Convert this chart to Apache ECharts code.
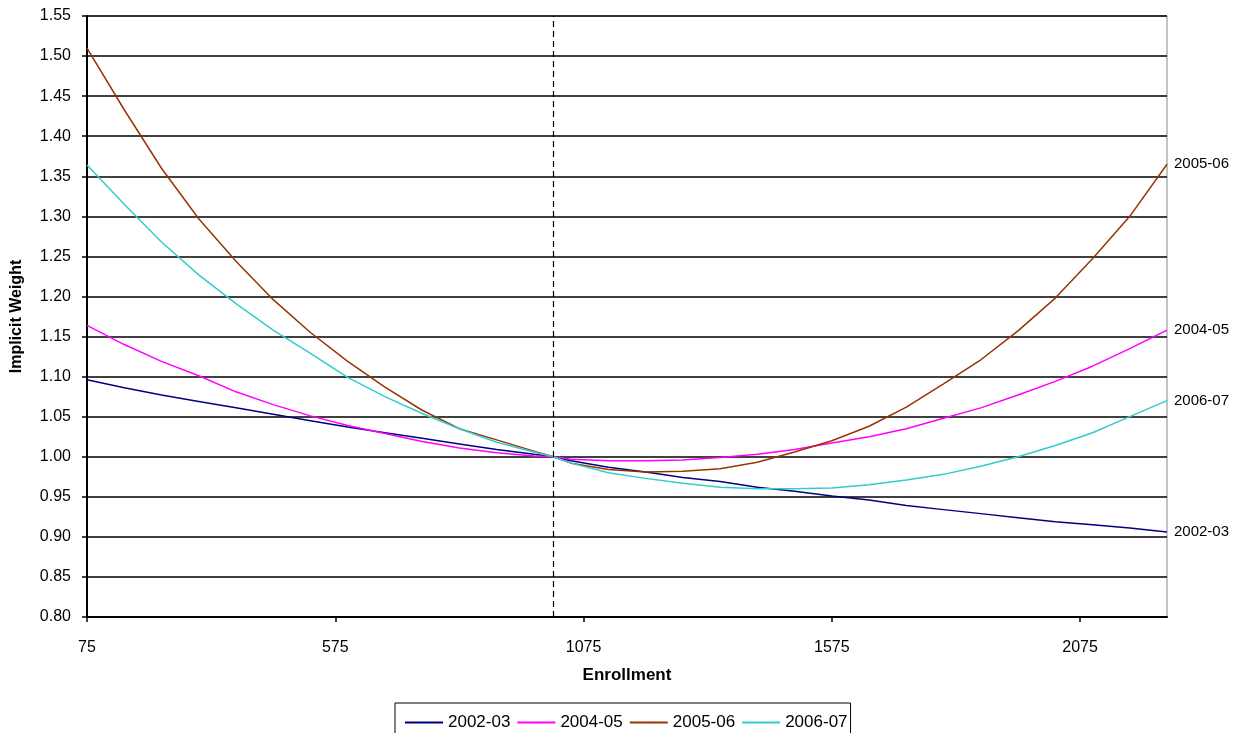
<!DOCTYPE html>
<html>
<head>
<meta charset="utf-8">
<script src="https://cdn.jsdelivr.net/npm/echarts@6/dist/echarts.min.js"></script>
<style>
html,body{margin:0;padding:0;background:#fff;}
#chart{width:1235px;height:733px;}
</style>
</head>
<body>
<div id="chart"></div>
<script>
// Enrollment values (x)
var enrollment = [75,150,225,300,375,450,525,600,675,750,825,900,975,1014,1050,1125,1200,1275,1350,1425,1500,1575,1650,1725,1800,1875,1950,2025,2100,2175,2250];
var xTickLabels = [75,575,1075,1575,2075];
var referenceEnrollment = 1014;
var seriesNames = ['2002-03','2004-05','2005-06','2006-07'];

var s2002_03 = [1.096,1.086,1.077,1.069,1.061,1.053,1.045,1.037,1.030,1.023,1.016,1.009,1.003,1.000,0.995,0.987,0.981,0.974,0.969,0.962,0.957,0.951,0.946,0.939,0.934,0.929,0.924,0.919,0.915,0.911,0.906];
var s2004_05 = [1.164,1.140,1.119,1.101,1.081,1.065,1.051,1.039,1.029,1.019,1.011,1.005,1.001,1.000,0.997,0.995,0.995,0.996,0.999,1.003,1.009,1.017,1.025,1.035,1.048,1.061,1.077,1.094,1.113,1.135,1.158];
var s2005_06 = [1.510,1.433,1.360,1.297,1.244,1.196,1.155,1.119,1.087,1.058,1.035,1.021,1.007,1.000,0.992,0.984,0.981,0.982,0.985,0.993,1.006,1.020,1.038,1.062,1.091,1.121,1.157,1.198,1.247,1.300,1.365];
var s2006_07 = [1.364,1.315,1.268,1.227,1.191,1.158,1.129,1.099,1.075,1.054,1.035,1.018,1.006,1.000,0.992,0.980,0.973,0.967,0.962,0.960,0.960,0.961,0.965,0.971,0.978,0.988,1.000,1.014,1.030,1.050,1.070];

var colors = ['#000080','#FF00FF','#993300','#33CCCC'];
var allValues = [s2002_03, s2004_05, s2005_06, s2006_07];

function pairs(vals){ return enrollment.map(function(x,i){ return [x, vals[i]]; }); }

var FONT = 'Liberation Sans, Arial, sans-serif';

var series = seriesNames.map(function(name, k){
  var s = {
    name: name,
    type: 'line',
    data: pairs(allValues[k]),
    symbol: 'none',
    showSymbol: false,
    smooth: false,
    lineStyle: { color: colors[k], width: 1.5 },
    itemStyle: { color: colors[k] },
    endLabel: { show: true, formatter: '{a}', color: '#000', fontFamily: FONT, fontSize: 15, distance: 7 },
    emphasis: { disabled: true },
    z: 3
  };
  if (k === 0) {
    s.markLine = {
      silent: true,
      symbol: ['none','none'],
      label: { show: false },
      lineStyle: { color: '#000', type: [6,4], width: 1.2 },
      data: [{ xAxis: referenceEnrollment }]
    };
  }
  return s;
});

var chart = echarts.init(document.getElementById('chart'), null, { renderer: 'canvas' });
chart.setOption({
  animation: false,
  backgroundColor: '#fff',
  textStyle: { fontFamily: FONT },
  grid: { left: 87, top: 16, right: 68, bottom: 116, show: true, borderColor: '#888', borderWidth: 1, backgroundColor: 'transparent' },
  legend: {
    data: seriesNames,
    left: 395,
    top: 703,
    itemWidth: 38,
    itemHeight: 2,
    itemGap: 6,
    padding: [11, 3, 30, 9],
    borderColor: '#000',
    borderWidth: 1,
    textStyle: { fontFamily: FONT, fontSize: 17, color: '#000' }
  },
  xAxis: {
    type: 'value',
    min: 75,
    max: 2250,
    name: 'Enrollment',
    nameLocation: 'middle',
    nameGap: 50,
    nameTextStyle: { fontFamily: FONT, fontSize: 17, fontWeight: 'bold', color: '#000' },
    axisLine: { show: true, onZero: false, lineStyle: { color: '#000', width: 2 } },
    axisTick: { show: true, inside: false, length: 5, lineStyle: { color: '#000', width: 1.5 }, customValues: xTickLabels },
    axisLabel: { customValues: xTickLabels, margin: 23, fontFamily: FONT, fontSize: 16, color: '#000', formatter: function(v){ return String(v); } },
    splitLine: { show: false }
  },
  yAxis: {
    type: 'value',
    min: 0.8,
    max: 1.55,
    interval: 0.05,
    name: 'Implicit Weight',
    nameLocation: 'middle',
    nameGap: 62,
    nameRotate: 90,
    nameTextStyle: { fontFamily: FONT, fontSize: 16, fontWeight: 'bold', color: '#000' },
    axisLine: { show: true, onZero: false, lineStyle: { color: '#000', width: 2 } },
    axisTick: { show: true, inside: false, length: 5, lineStyle: { color: '#000', width: 1.5 } },
    axisLabel: { margin: 16, fontFamily: FONT, fontSize: 16, color: '#000', formatter: function(v){ return v.toFixed(2); } },
    splitLine: { show: true, lineStyle: { color: '#000', width: 1.5 } }
  },
  series: series
});
</script>
</body>
</html>
